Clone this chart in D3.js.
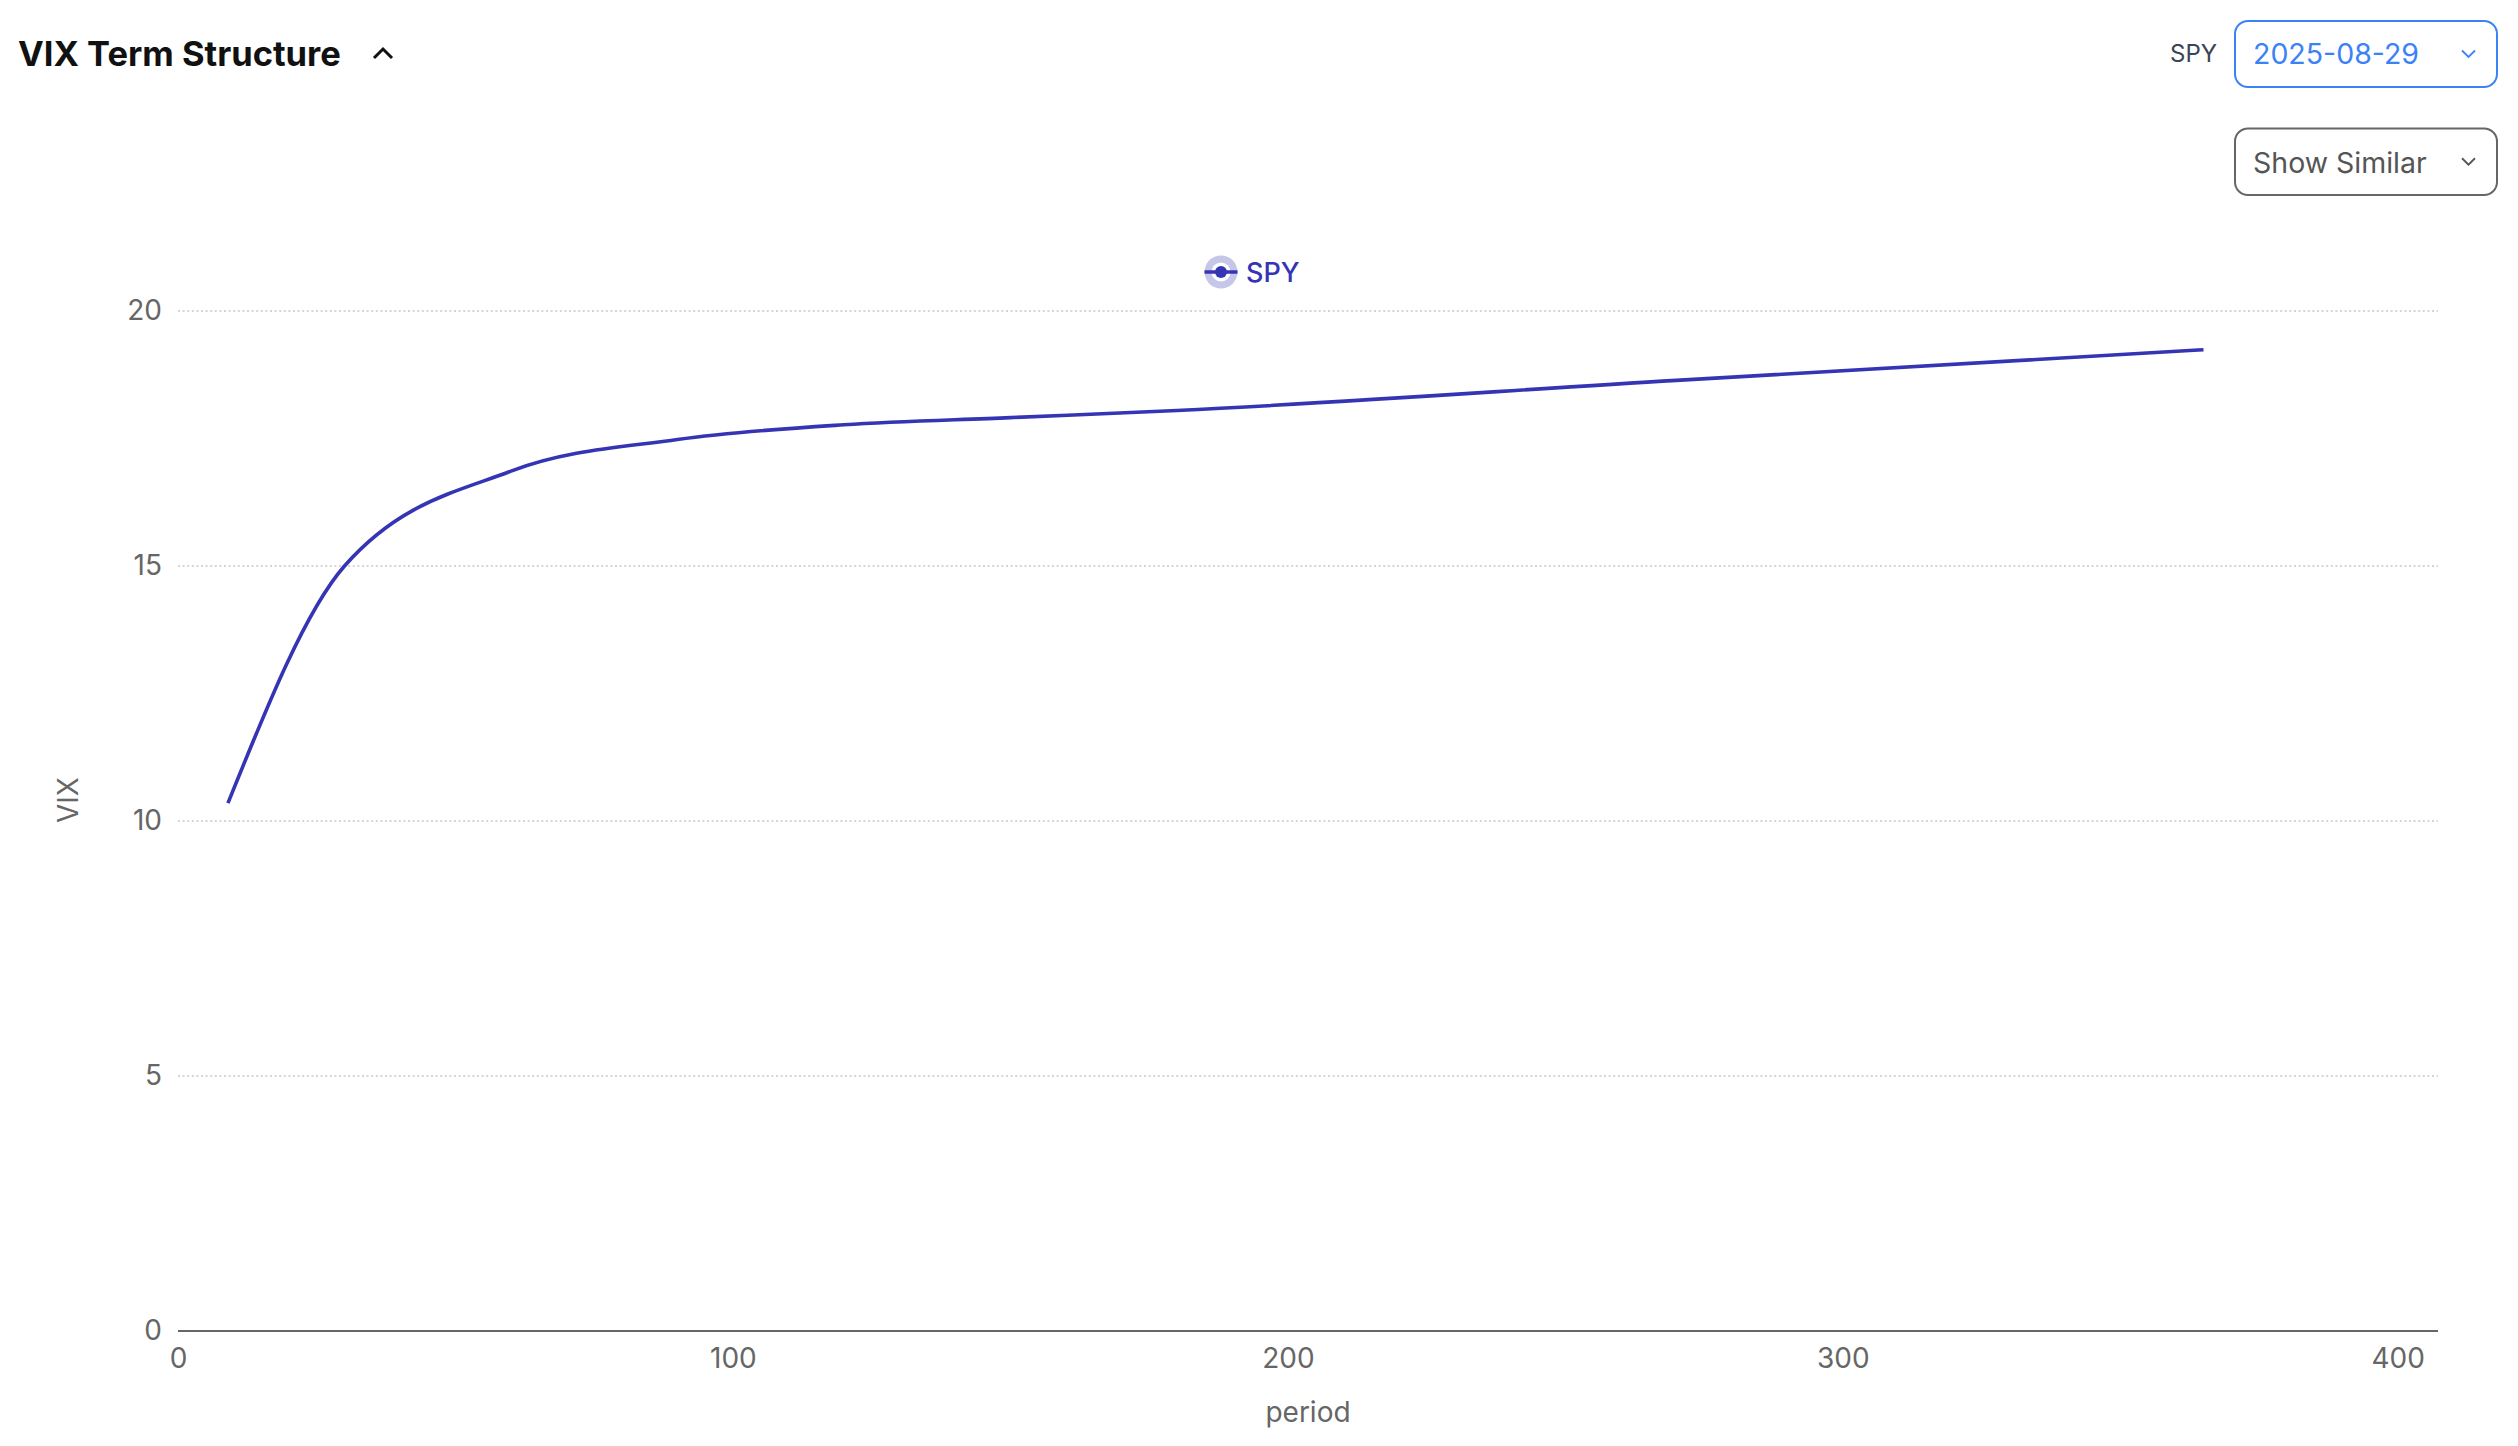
<!DOCTYPE html>
<html>
<head>
<meta charset="utf-8">
<script src="https://cdn.jsdelivr.net/npm/d3@7"></script>
<style>
  body { margin: 0; background: #fff; }
  text { font-family: Inter, "Noto Sans", sans-serif; }
</style>
</head>
<body>
<div id="draw"></div>
<script>
// term structure
let periods = [9, 30, 60, 90, 120, 150, 180, 270, 365];
let vixValues = [10.35, 15.0, 16.86, 17.48, 17.77, 17.91, 18.05, 18.64, 19.24];
let xTicks = [0, 100, 200, 300, 400];
let yTicks = [0, 5, 10, 15, 20];
let seriesName = 'SPY';
let selectedDate = '2025-08-29';

let data = periods.map((p, i) => ({ period: p, vix: vixValues[i] }));

let width = 2518,
    height = 1446,
    plot = { left: 178, right: 2438, top: 311, bottom: 1331 };
let lineColor = '#3434b4';

let svg = d3.select('#draw')
    .append('svg')
    .attr('width', width)
    .attr('height', height);

let xScale = d3.scaleLinear().domain([0, 400]).range([plot.left, 2397.7]),
    yScale = d3.scaleLinear().domain([0, 20]).range([plot.bottom, plot.top]);

// header
svg.append('text')
    .attr('x', 18).attr('y', 66)
    .attr('font-size', 34.5).attr('font-weight', 700).attr('fill', '#111')
    .text('VIX Term Structure');
svg.append('path')
    .attr('d', 'M374,58 L383,49 L392,58')
    .attr('fill', 'none').attr('stroke', '#111').attr('stroke-width', 3);

svg.append('text')
    .attr('x', 2217).attr('y', 62).attr('text-anchor', 'end')
    .attr('font-size', 24).attr('fill', '#3a4556')
    .text(seriesName);

// select boxes
let boxes = [
    { y: 21, h: 66, label: selectedDate, color: '#3b82f6', text: '#3b82f6', base: 64 },
    { y: 128.5, h: 66.5, label: 'Show Similar', color: '#666', text: '#555', base: 172.5 }
];
boxes.forEach(b => {
    svg.append('rect')
        .attr('x', 2235).attr('y', b.y).attr('width', 262).attr('height', b.h)
        .attr('rx', 13).attr('fill', '#fff')
        .attr('stroke', b.color).attr('stroke-width', 2);
    svg.append('text')
        .attr('x', 2253).attr('y', b.base)
        .attr('font-size', 28.5).attr('fill', b.text)
        .text(b.label);
    let cy = b.y + b.h / 2;
    svg.append('path')
        .attr('d', 'M2462,' + (cy - 3.5) + ' L2468.5,' + (cy + 3) + ' L2475,' + (cy - 3.5))
        .attr('fill', 'none').attr('stroke', b.text).attr('stroke-width', 1.8);
});

// grid
let g = svg.append('g');
g.selectAll('.grid')
    .data(yTicks.filter(d => d > 0))
    .enter()
    .append('line')
    .attr('class', 'grid')
    .attr('x1', plot.left).attr('x2', plot.right)
    .attr('y1', d => yScale(d)).attr('y2', d => yScale(d))
    .attr('stroke', '#c8c8c8').attr('stroke-width', 1.6)
    .attr('stroke-dasharray', '2,2.6');

// y axis (no line, no ticks)
let yAxis = g.append('g')
    .attr('transform', 'translate(' + plot.left + ',0)')
    .call(d3.axisLeft(yScale).tickValues(yTicks).tickSize(0).tickPadding(16));
yAxis.select('.domain').remove();
yAxis.selectAll('text').attr('font-size', 28).attr('fill', '#666').attr('font-family', 'Inter, sans-serif');

// x axis
let xAxis = g.append('g')
    .attr('transform', 'translate(0,' + plot.bottom + ')')
    .call(d3.axisBottom(xScale).tickValues(xTicks).tickSize(0).tickPadding(17));
xAxis.select('.domain').remove();
xAxis.selectAll('text').attr('font-size', 28).attr('fill', '#666').attr('font-family', 'Inter, sans-serif');
g.append('line')
    .attr('x1', plot.left).attr('x2', plot.right)
    .attr('y1', plot.bottom).attr('y2', plot.bottom)
    .attr('stroke', '#666').attr('stroke-width', 2);

g.append('text')
    .attr('x', (plot.left + plot.right) / 2).attr('y', 1422)
    .attr('text-anchor', 'middle').attr('font-size', 28).attr('fill', '#666')
    .text('period');
g.append('text')
    .attr('transform', 'translate(78,800) rotate(-90)')
    .attr('text-anchor', 'middle').attr('font-size', 28).attr('fill', '#666')
    .text('VIX');

// line
let line = d3.line()
    .x(d => xScale(d.period))
    .y(d => yScale(d.vix))
    .curve(d3.curveMonotoneX);
g.append('path')
    .datum(data)
    .attr('d', line)
    .attr('fill', 'none')
    .attr('stroke', lineColor)
    .attr('stroke-width', 3.6);

// legend
let lg = svg.append('g').attr('transform', 'translate(1221,272)');
lg.append('circle').attr('r', 16.5).attr('fill', '#c6c6e8');
lg.append('circle').attr('r', 9.5).attr('fill', '#fff');
lg.append('line').attr('x1', -16.5).attr('x2', 16.5)
    .attr('stroke', lineColor).attr('stroke-width', 3.6);
lg.append('circle').attr('r', 6).attr('fill', lineColor);
lg.append('text')
    .attr('x', 25).attr('y', 10)
    .attr('font-size', 27).attr('font-weight', 500).attr('fill', lineColor)
    .text(seriesName);
</script>
</body>
</html>
